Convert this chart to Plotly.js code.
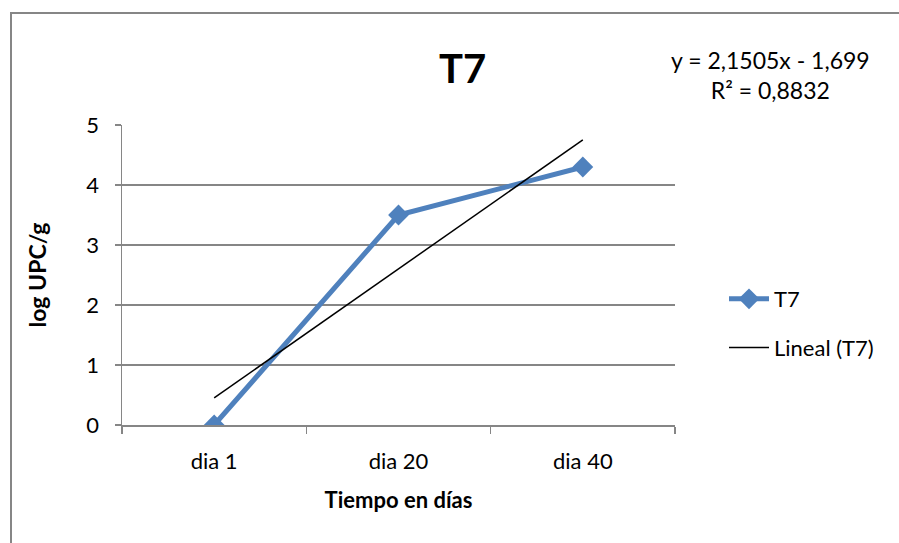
<!DOCTYPE html>
<html>
<head>
<meta charset="utf-8">
<script src="https://cdn.plot.ly/plotly-3.0.1.min.js"></script>
<style>
html,body{margin:0;padding:0;background:#fff;}
#chart{width:899px;height:543px;}
</style>
</head>
<body>
<div id="chart"></div>
<script>
// Data
var categories = ['dia 1', 'dia 20', 'dia 40'];
var t7Values = [0, 3.5, 4.3];
var trendSlope = [2.1505];
var trendIntercept = [-1.699];
var trendR2 = ['0,8832'];
var yTicks = [0, 1, 2, 3, 4, 5];

var trendY = categories.map(function(c, i){ return trendSlope[0] * (i + 1) + trendIntercept[0]; });

var FONT = 'Lato, "Open Sans", sans-serif';
var FS = 22;
var L = 122, T = 125, W = 553, H = 300;
function px(x){ return (x - L) / W; }
function py(y){ return (T + H - y) / H; }

var traces = [
  {
    x: categories, y: t7Values, name: 'T7', type: 'scatter', mode: 'lines+markers',
    legendgroup: 'a',
    line: {color: '#4F81BD', width: 5},
    marker: {symbol: 'diamond', size: 16, color: '#4F81BD'}
  },
  {
    x: categories, y: trendY, name: 'Lineal (T7)', type: 'scatter', mode: 'lines',
    legendgroup: 'b',
    line: {color: '#000000', width: 1.5}
  }
];

var fx0 = px(11), fy1 = py(13), fx1 = px(1000), fy0 = py(700);

var layout = {
  width: 899, height: 543,
  margin: {l: L, r: 899 - L - W, t: T, b: 543 - T - H, pad: 0},
  paper_bgcolor: '#ffffff', plot_bgcolor: '#ffffff',
  font: {family: FONT, size: FS, color: '#000'},
  showlegend: true,
  legend: {x: px(724), y: py(278), xanchor: 'left', yanchor: 'top',
           font: {family: FONT, size: FS, color: '#000'}, traceorder: 'grouped', tracegroupgap: 17,
           itemwidth: 40, bgcolor: 'rgba(0,0,0,0)'},
  xaxis: {
    type: 'category', categoryorder: 'array', categoryarray: categories,
    range: [-0.5, 2.5], tickson: 'boundaries', ticks: 'outside', ticklen: 7,
    tickcolor: '#868686', tickwidth: 1.5, showline: true, linecolor: '#868686', linewidth: 1.5,
    showgrid: false, zeroline: false, fixedrange: true,
    tickfont: {family: FONT, size: FS, color: '#000'}, ticklabelstandoff: 16,
    title: {text: 'Tiempo en días', font: {family: FONT, size: FS, color: '#000', weight: 'bold'}, standoff: 19}
  },
  yaxis: {
    range: [0, 5], tickvals: yTicks, ticks: 'outside', ticklen: 6,
    tickcolor: '#868686', tickwidth: 1.5, showline: true, linecolor: '#868686', linewidth: 1.5,
    showgrid: true, gridcolor: '#868686', gridwidth: 1.5, zeroline: false, fixedrange: true,
    tickfont: {family: FONT, size: FS, color: '#000'}, ticklabelstandoff: 11,
    title: {text: 'log UPC/g', font: {family: FONT, size: FS + 1, color: '#000', weight: 'bold'}, standoff: 33}
  },
  annotations: [
    {text: '<b>T7</b>', xref: 'paper', yref: 'paper', x: px(462), y: py(68),
     xanchor: 'center', yanchor: 'middle', showarrow: false,
     font: {family: FONT, size: 40, color: '#000'}},
    {text: 'y = ' + trendSlope[0].toString().replace('.', ',') + 'x - ' + Math.abs(trendIntercept[0]).toString().replace('.', ',') +
           '<br>R² = ' + trendR2[0],
     xref: 'paper', yref: 'paper', x: px(770), y: py(75),
     xanchor: 'center', yanchor: 'middle', align: 'center', showarrow: false,
     font: {family: FONT, size: FS + 1, color: '#000'}}
  ],
  shapes: [
    {type: 'path', xref: 'paper', yref: 'paper',
     path: 'M ' + fx0 + ',' + fy0 + ' L ' + fx0 + ',' + fy1 + ' L ' + fx1 + ',' + fy1,
     line: {color: '#868686', width: 2}, layer: 'below'}
  ]
};

Plotly.newPlot('chart', traces, layout, {displayModeBar: false, staticPlot: true});
</script>
</body>
</html>
